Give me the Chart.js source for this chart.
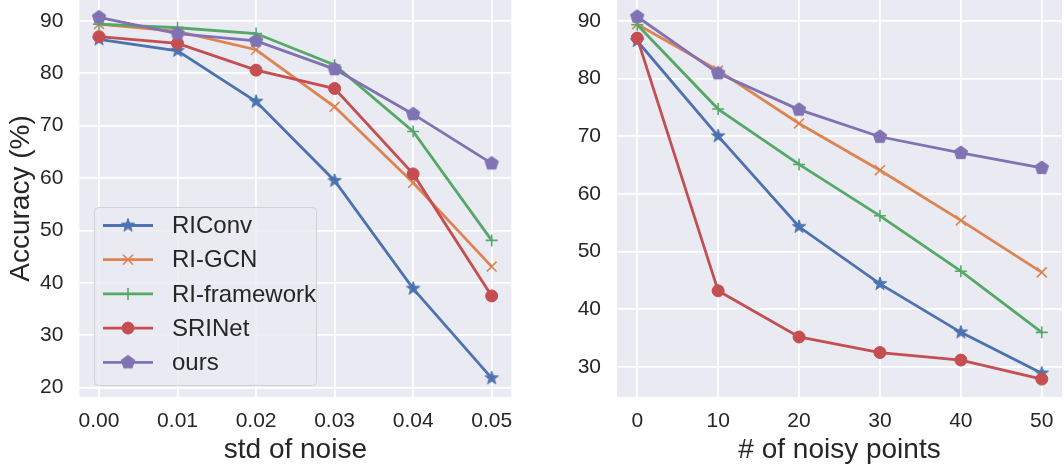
<!DOCTYPE html>
<html>
<head>
<meta charset="utf-8">
<script src="https://cdn.jsdelivr.net/npm/chart.js@4.4.0/dist/chart.umd.min.js"></script>
<style>
  html, body { margin: 0; padding: 0; background: #ffffff; }
  #wrap { position: relative; width: 1064px; height: 474px; overflow: hidden; }
  canvas { position: absolute; top: 0; }
  #left  { left: 0; }
  #right { left: 540px; }
</style>
</head>
<body>
<div id="wrap">
  <canvas id="left"  width="540" height="474"></canvas>
  <canvas id="right" width="524" height="474"></canvas>
</div>
<script>
'use strict';

// ---- data ----
var NAMES  = ['RIConv', 'RI-GCN', 'RI-framework', 'SRINet', 'ours'];
var COLORS = ['#4C72B0', '#DD8452', '#55A868', '#C44E52', '#8172B3'];

var STD_X       = [0.00, 0.01, 0.02, 0.03, 0.04, 0.05];
var STD_LABELS  = ['0.00', '0.01', '0.02', '0.03', '0.04', '0.05'];
var STD_RICONV  = [86.5, 84.3, 74.6, 59.5, 38.9, 21.8];
var STD_RIGCN   = [89.4, 88.0, 84.5, 73.6, 59.1, 43.1];
var STD_RIFRAME = [89.4, 88.7, 87.6, 81.6, 68.9, 48.1];
var STD_SRINET  = [87.0, 85.7, 80.6, 77.1, 60.8, 37.5];
var STD_OURS    = [90.7, 87.6, 86.2, 80.8, 72.2, 62.8];
var STD_YTICKS  = [20, 30, 40, 50, 60, 70, 80, 90];

var PTS_X       = [0, 10, 20, 30, 40, 50];
var PTS_LABELS  = ['0', '10', '20', '30', '40', '50'];
var PTS_RICONV  = [86.5, 70.0, 54.3, 44.4, 36.0, 28.9];
var PTS_RIGCN   = [89.4, 81.4, 72.2, 64.1, 55.4, 46.4];
var PTS_RIFRAME = [89.3, 74.7, 65.1, 56.2, 46.6, 36.0];
var PTS_SRINET  = [87.0, 43.2, 35.2, 32.5, 31.2, 27.9];
var PTS_OURS    = [90.7, 80.9, 74.6, 69.9, 67.1, 64.5];
var PTS_YTICKS  = [30, 40, 50, 60, 70, 80, 90];

var FONT = "'Liberation Sans', Arial, sans-serif";
var TEXT = '#262626';

// ---- marker images (matplotlib-like star and pentagon) ----
function polyMarker(color, n, rOut, rIn) {
  var size = Math.ceil(rOut * 2 + 4);
  var c = document.createElement('canvas');
  c.width = size; c.height = size;
  var g = c.getContext('2d');
  var pts = rIn ? n * 2 : n;
  g.beginPath();
  for (var i = 0; i < pts; i++) {
    var r = (rIn && i % 2) ? rIn : rOut;
    var a = -Math.PI / 2 + i * 2 * Math.PI / pts;
    var px = size / 2 + r * Math.cos(a), py = size / 2 + r * Math.sin(a);
    if (i === 0) g.moveTo(px, py); else g.lineTo(px, py);
  }
  g.closePath();
  g.fillStyle = color; g.fill();
  g.lineWidth = 1; g.strokeStyle = color; g.stroke();
  return c;
}

var STYLES = [
  { style: polyMarker(COLORS[0], 5, 7, 2.8), radius: 6 },
  { style: 'crossRot', radius: 7 },
  { style: 'cross', radius: 6 },
  { style: 'circle', radius: 6 },
  { style: polyMarker(COLORS[4], 5, 7, 0), radius: 6.5 },
];

function makeDatasets(xs, series) {
  return series.map(function(ys, i) {
    return {
      label: NAMES[i],
      data: xs.map(function(x, j) { return { x: x, y: ys[j] }; }),
      borderColor: COLORS[i],
      backgroundColor: COLORS[i],
      borderWidth: 2.8,
      pointStyle: STYLES[i].style,
      pointRadius: STYLES[i].radius,
      pointBorderWidth: i === 1 || i === 2 ? 1.6 : 1,
      pointBackgroundColor: COLORS[i],
      pointBorderColor: COLORS[i],
      order: series.length - i,
      tension: 0,
    };
  });
}

var bgPlugin = {
  id: 'bg',
  beforeDraw: function(chart) {
    var a = chart.chartArea, ctx = chart.ctx;
    ctx.save();
    ctx.fillStyle = '#EAEAF2';
    ctx.fillRect(a.left, a.top, a.right - a.left, a.bottom - a.top);
    ctx.restore();
  },
};

var legendPlugin = {
  id: 'boxLegend',
  afterDatasetsDraw: function(chart, args, opts) {
    if (!opts.show) return;
    var ctx = chart.ctx;
    ctx.save();
    ctx.globalAlpha = 0.8;
    ctx.beginPath();
    ctx.roundRect(94.5, 207.5, 222, 178, 4);
    ctx.fillStyle = '#EAEAF2';
    ctx.fill();
    ctx.lineWidth = 1;
    ctx.strokeStyle = '#CCCCCC';
    ctx.stroke();
    ctx.globalAlpha = 1;
    chart.data.datasets.forEach(function(ds, i) {
      var y = 225.5 + i * 34.2;
      ctx.beginPath();
      ctx.moveTo(103, y); ctx.lineTo(153, y);
      ctx.lineWidth = 2.8; ctx.strokeStyle = ds.borderColor; ctx.stroke();
      ctx.fillStyle = ds.backgroundColor;
      ctx.strokeStyle = ds.borderColor;
      ctx.lineWidth = ds.pointBorderWidth;
      Chart.helpers.drawPoint(ctx, { pointStyle: ds.pointStyle, radius: ds.pointRadius, borderWidth: ds.pointBorderWidth, rotation: 0 }, 128, y);
      ctx.fillStyle = TEXT;
      ctx.font = '24px ' + FONT;
      ctx.textBaseline = 'middle';
      ctx.textAlign = 'left';
      ctx.fillText(ds.label, 172, y + 1);
    });
    ctx.restore();
  },
};

function buildChart(id, cfg) {
  var ctx = document.getElementById(id).getContext('2d');
  return new Chart(ctx, {
    type: 'line',
    data: { datasets: makeDatasets(cfg.xs, cfg.series) },
    plugins: [bgPlugin, legendPlugin],
    options: {
      responsive: false,
      animation: false,
      layout: { autoPadding: false, padding: { left: 0, top: 0, bottom: 0, right: cfg.padRight } },
      plugins: {
        legend: { display: false },
        tooltip: { enabled: false },
        boxLegend: { show: cfg.legend },
      },
      scales: {
        x: {
          type: 'linear',
          min: cfg.xmin, max: cfg.xmax,
          afterBuildTicks: function(s) { s.ticks = cfg.xs.map(function(v) { return { value: v }; }); },
          afterFit: function(s) { s.height = 77; s.paddingLeft = 0; s.paddingRight = 0; },
          grid: { color: '#ffffff', lineWidth: 1.8, drawTicks: false },
          border: { display: false },
          ticks: {
            color: TEXT, font: { family: FONT, size: 21 }, padding: 12, maxRotation: 0,
            callback: function(v, i) { return cfg.xlabels[i]; },
          },
          title: { display: true, text: cfg.xtitle, color: TEXT,
                   font: { family: FONT, size: 28 }, padding: { top: 0, bottom: 7 } },
        },
        y: {
          min: cfg.ymin, max: cfg.ymax,
          afterBuildTicks: function(s) { s.ticks = cfg.yticks.map(function(v) { return { value: v }; }); },
          afterFit: function(s) { s.width = cfg.yWidth; s.paddingTop = 0; s.paddingBottom = 0; },
          grid: { color: '#ffffff', lineWidth: 1.8, drawTicks: false },
          border: { display: false },
          ticks: { color: TEXT, font: { family: FONT, size: 21 }, padding: 16 },
          title: { display: !!cfg.ytitle, text: cfg.ytitle || '', color: TEXT,
                   font: { family: FONT, size: 28 }, padding: { top: 4, bottom: 0 } },
        },
      },
    },
  });
}

buildChart('left', {
  xs: STD_X, xlabels: STD_LABELS,
  series: [STD_RICONV, STD_RIGCN, STD_RIFRAME, STD_SRINET, STD_OURS],
  xmin: -0.0025, xmax: 0.0525, ymin: 18.2, ymax: 94.0, yticks: STD_YTICKS,
  xtitle: 'std of noise', ytitle: 'Accuracy (%)',
  yWidth: 79.4, padRight: 28.7, legend: true,
});

buildChart('right', {
  xs: PTS_X, xlabels: PTS_LABELS,
  series: [PTS_RICONV, PTS_RIGCN, PTS_RIFRAME, PTS_SRINET, PTS_OURS],
  xmin: -2.5, xmax: 52.5, ymin: 24.8, ymax: 93.6, yticks: PTS_YTICKS,
  xtitle: '# of noisy points', ytitle: null,
  yWidth: 77, padRight: 2, legend: false,
});
</script>
</body>
</html>
